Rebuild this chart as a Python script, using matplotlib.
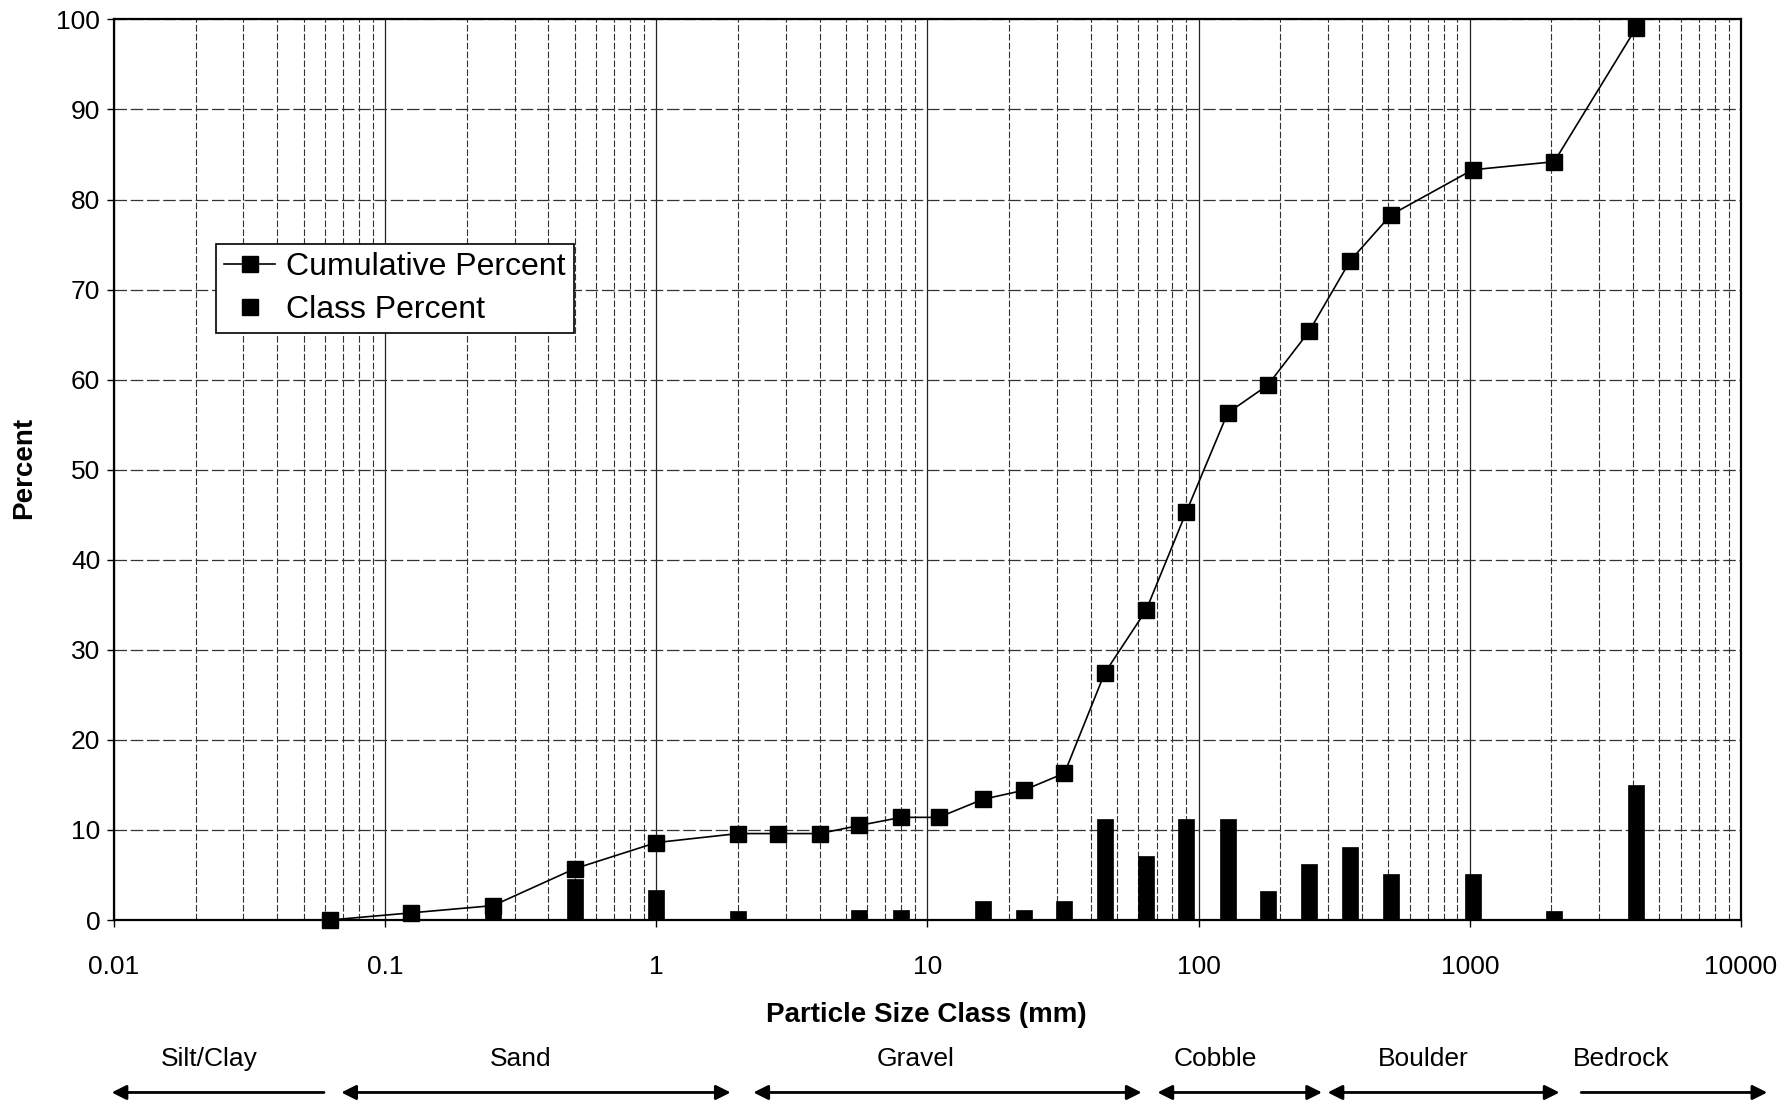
import numpy as np
import matplotlib
matplotlib.use("Agg")
import matplotlib.pyplot as plt
from matplotlib.lines import Line2D
from matplotlib.ticker import LogLocator, FuncFormatter, NullFormatter, MultipleLocator
from matplotlib.transforms import blended_transform_factory

plt.rcParams['font.family'] = ['Liberation Sans', 'DejaVu Sans']

# particle size classes (mm), cumulative and per-class percent
sizes = [0.0625, 0.125, 0.25, 0.5, 1, 2, 2.8, 4, 5.6, 8, 11, 16, 22.6, 32,
         45, 64, 90, 128, 180, 256, 362, 512, 1024, 2048, 4096]
cumulative = [0.0, 0.8, 1.6, 5.7, 8.6, 9.6, 9.6, 9.6, 10.5, 11.4, 11.4, 13.4,
              14.4, 16.3, 27.4, 34.4, 45.3, 56.3, 59.4, 65.4, 73.2, 78.3,
              83.3, 84.2, 99.0]
class_pct = [0.0, 0.8, 0.8, 4.5, 3.3, 1.0, 0.0, 0.0, 1.1, 1.1, 0.0, 2.1,
             1.1, 2.1, 11.2, 7.1, 11.2, 11.2, 3.2, 6.2, 8.1, 5.1,
             5.1, 1.0, 15.0]

# substrate classes along the size axis: name, label x, arrow from, arrow to, style
class_names = ["Silt/Clay", "Sand", "Gravel", "Cobble", "Boulder", "Bedrock"]
class_label_x = [0.0224, 0.315, 9.03, 115.6, 675, 3614]
class_from = [0.0098, 0.0689, 2.28, 70.5, 299, 2576]
class_to = [0.0595, 1.88, 61.6, 285, 2142, 12500]
class_arrows = ['<|-', '<|-|>', '<|-|>', '<|-|>', '<|-|>', '-|>']

fig = plt.figure(figsize=(17.9, 11.09), dpi=100)
ax = fig.add_axes([0.0637, 0.1704, 0.9089, 0.8121])

ax.set_xscale('log')
ax.set_xlim(0.01, 10000)
ax.set_ylim(0, 100)

# bars of constant on-screen width on the log axis
bw = 0.059
sz = np.array(sizes)
cp = np.array(class_pct)
keep = cp > 0
left = sz[keep] * 10 ** (-bw / 2)
width = sz[keep] * (10 ** (bw / 2) - 10 ** (-bw / 2))
ax.bar(left, cp[keep], width=width, align='edge', color='black',
       edgecolor='black', linewidth=0.5, zorder=3)

ax.plot(sizes, cumulative, color='black', lw=1.2, marker='s', markersize=11.5,
        markerfacecolor='black', markeredgecolor='black', zorder=4, clip_on=False)

# grid
ax.xaxis.set_major_locator(LogLocator(base=10, numticks=20))
ax.xaxis.set_minor_locator(LogLocator(base=10, subs=np.arange(2, 10), numticks=20))
ax.xaxis.set_major_formatter(FuncFormatter(lambda v, p: f"{v:g}"))
ax.xaxis.set_minor_formatter(NullFormatter())
ax.yaxis.set_major_locator(MultipleLocator(10))
ax.grid(which='major', axis='x', color='#222222', lw=0.9, ls='-', zorder=1)
ax.grid(which='minor', axis='x', color='#333333', lw=0.8, ls=(0, (6, 2)), zorder=1)
ax.grid(which='major', axis='y', color='#333333', lw=0.9, ls=(0, (10, 3)), zorder=1)

for s in ax.spines.values():
    s.set_linewidth(1.6)
    s.set_color('black')
    s.set_zorder(5)

ax.tick_params(axis='x', which='major', length=5, width=1, pad=20, labelsize=19)
ax.tick_params(axis='x', which='minor', length=0)
ax.tick_params(axis='y', which='major', length=5, width=1, pad=5, labelsize=19)

ax.set_xlabel("Particle Size Class (mm)", fontsize=20, fontweight='bold')
ax.xaxis.set_label_coords(0.499, -0.091)
ax.set_ylabel("Percent", fontsize=20, fontweight='bold')
ax.yaxis.set_label_coords(-0.047, 0.502)

handles = [
    Line2D([], [], color='black', lw=1.2, marker='s', markersize=11),
    Line2D([], [], color='black', lw=0, marker='s', markersize=11),
]
leg = ax.legend(handles, ["Cumulative Percent", "Class Percent"],
                loc='upper left', bbox_to_anchor=(0.0627, 0.7506),
                fontsize=23, frameon=True, fancybox=False, framealpha=1,
                edgecolor='black', handlelength=1.6, handletextpad=0.35,
                borderpad=0.25, labelspacing=0.42, borderaxespad=0)
leg.get_frame().set_linewidth(1.2)
leg.set_zorder(6)

# substrate class labels and arrows beneath the axis
tr = blended_transform_factory(ax.transData, fig.transFigure)
for name, lx, x0, x1, style in zip(class_names, class_label_x, class_from,
                                   class_to, class_arrows):
    ax.text(lx, 0.045, name, transform=tr, ha='center', va='center',
            fontsize=19, clip_on=False)
    ax.annotate('', xy=(x1, 0.0149), xytext=(x0, 0.0149), xycoords=tr,
                textcoords=tr, annotation_clip=False,
                arrowprops=dict(arrowstyle=style, color='black', lw=2,
                                mutation_scale=22, shrinkA=0, shrinkB=0))

fig.savefig("out.png", dpi=100)
